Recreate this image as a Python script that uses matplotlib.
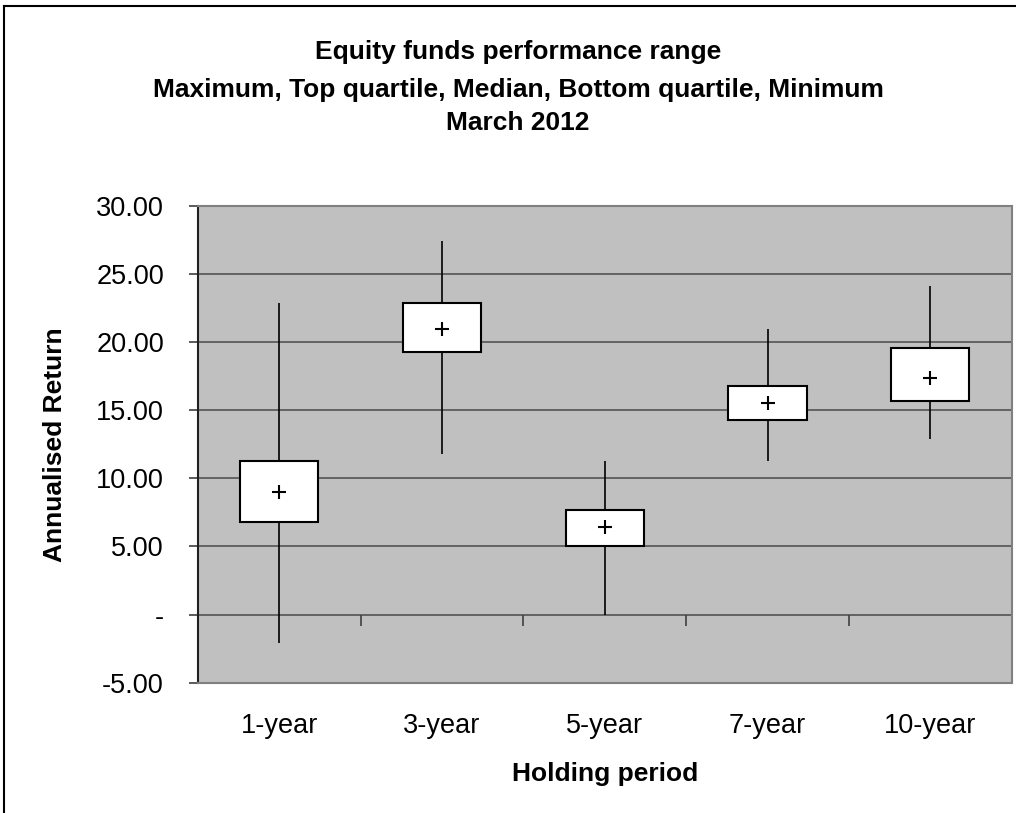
import numpy as np
import matplotlib
matplotlib.use('Agg')
from matplotlib import pyplot as plt
from matplotlib.ticker import FuncFormatter
from matplotlib.lines import Line2D

plt.rcParams['font.family'] = ['Liberation Sans', 'DejaVu Sans']

# Values (annualised return, %)
periods = ['1-year', '3-year', '5-year', '7-year', '10-year']
maximum = [22.9, 27.4, 11.3, 21.0, 24.1]
top_quartile = [11.3, 22.9, 7.7, 16.8, 19.6]
median = [9.0, 21.0, 6.4, 15.5, 17.4]
bottom_quartile = [6.8, 19.3, 5.05, 14.3, 15.7]
minimum = [-2.1, 11.8, 0.0, 11.3, 12.9]
y_ticks = [-5, 0, 5, 10, 15, 20, 25, 30]

x = np.arange(len(periods))
box_h = np.array(top_quartile) - np.array(bottom_quartile)

fig = plt.figure(figsize=(10.16, 8.13), dpi=100)
ax = fig.add_axes([0.1946, 0.1603, 0.8012, 0.5863])
ax.set_facecolor('#c0c0c0')

# gridlines
for v in y_ticks:
    ax.axhline(v, color='#4a4a4a', lw=1.1, zorder=1)

# whiskers, boxes, medians
ax.vlines(x, minimum, maximum, color='black', lw=1.2, zorder=2)
ax.bar(x, box_h, bottom=bottom_quartile, width=0.48, color='white',
       edgecolor='black', linewidth=1.5, zorder=3)
ax.plot(x, median, linestyle='none', marker='+', ms=10, mew=1.5,
        color='black', zorder=4)

# category divider ticks on the zero line
ax.plot(np.arange(len(periods)) + 0.5, np.zeros(len(periods)),
        linestyle='none', marker=3, ms=8, mew=1.2, color='#404040', zorder=2)

ax.set_xlim(-0.5, len(periods) - 0.5)
ax.set_ylim(-5, 30)
ax.set_yticks(y_ticks)
ax.yaxis.set_major_formatter(FuncFormatter(lambda v, p: '-' if v == 0 else '{:.2f}'.format(v)))
ax.set_xticks(x)
ax.set_xticklabels(periods)

ax.tick_params(axis='x', length=0, pad=22, labelsize=19.5)
ax.tick_params(axis='y', length=6.8, width=1.2, pad=17.5, labelsize=19.5,
               color='#404040', direction='out')

for side in ['top', 'right', 'bottom']:
    ax.spines[side].set_color('#808080')
    ax.spines[side].set_linewidth(1.5)
ax.spines['left'].set_color('#202020')
ax.spines['left'].set_linewidth(1.5)

ax.set_ylabel('Annualised Return', fontsize=19, fontweight='bold')
ax.yaxis.set_label_coords(-0.160, 0.5)
ax.set_xlabel('Holding period', fontsize=19, fontweight='bold')
ax.xaxis.set_label_coords(0.5, -0.166)

# three-line title
title_lines = ['Equity funds performance range',
               'Maximum, Top quartile, Median, Bottom quartile, Minimum',
               'March 2012']
for line, ypix in zip(title_lines, [59, 96.5, 130]):
    fig.text(518 / 1016, 1 - ypix / 813, line, ha='center', va='baseline',
             fontsize=19, fontweight='bold')

# chart area border (cut off at right and bottom)
fig.add_artist(Line2D([4 / 1016, 4 / 1016], [-0.01, 1 - 6 / 813],
                      transform=fig.transFigure, color='black', lw=1.5))
fig.add_artist(Line2D([4 / 1016, 1.01], [1 - 6 / 813, 1 - 6 / 813],
                      transform=fig.transFigure, color='black', lw=1.5))

fig.savefig('out.png', dpi=100)
